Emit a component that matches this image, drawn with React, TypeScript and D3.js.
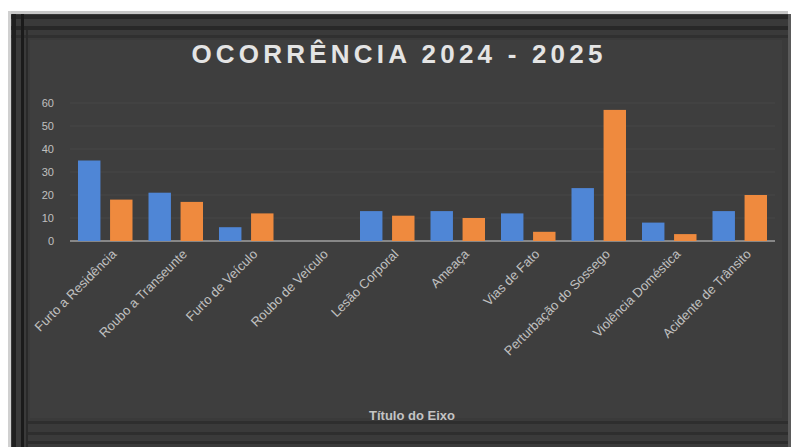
import React from "react";
import * as d3 from "d3";

const categories = [
  "Furto a Residência",
  "Roubo a Transeunte",
  "Furto de Veículo",
  "Roubo de Veículo",
  "Lesão Corporal",
  "Ameaça",
  "Vias de Fato",
  "Perturbação do Sossego",
  "Violência Doméstica",
  "Acidente de Trânsito",
];
const seriesNames = ["2024", "2025"];
const values2024 = [35, 21, 6, 0, 13, 13, 12, 23, 8, 13];
const values2025 = [18, 17, 12, 0, 11, 10, 4, 57, 3, 20];
const yTicks = [0, 10, 20, 30, 40, 50, 60];
const colors = ["#4F86D6", "#EF8A3E"];

export default function App() {
  const W = 791, H = 447;
  const left = 70, right = 775, top = 103, bottom = 241;
  const x0 = d3.scaleBand<string>().domain(categories).range([left, right]).padding(0);
  const x1 = d3.scaleBand<string>().domain(seriesNames).range([8, x0.bandwidth() - 8]).paddingInner(0.3);
  const y = d3.scaleLinear().domain([0, 60]).range([bottom, top]);
  const data = [values2024, values2025];
  const font = "Liberation Sans, Arial, sans-serif";
  return (
    <svg width={W} height={H} style={{ position: "absolute", left: 0, top: 0 }}>
      <rect x={0} y={0} width={W} height={H} fill="#ffffff" />
      <rect x={8} y={11} width={780} height={H - 11} fill="#3a3a3a" />
      <rect x={8} y={11} width={780} height={3} fill="#c8c8c8" />
      <rect x={8} y={11} width={3} height={H - 11} fill="#d0d0d0" />
      <rect x={788} y={14} width={3} height={H - 14} fill="#5a5a5a" />
      <rect x={11} y={15} width={777} height={4} fill="#282828" />
      <rect x={11} y={26} width={777} height={4} fill="#282828" />
      <rect x={11} y={35} width={777} height={3} fill="#303030" />
      <rect x={12} y={14} width={4} height={H - 14} fill="#1f1f1f" />
      <rect x={21} y={14} width={3} height={H - 14} fill="#1a1a1a" />
      <rect x={26} y={30} width={2} height={H - 30} fill="#2a2a2a" />
      <rect x={28} y={421} width={760} height={3} fill="#2e2e2e" />
      <rect x={28} y={432} width={760} height={3} fill="#2e2e2e" />
      <rect x={28} y={441} width={760} height={3} fill="#2c2c2c" />
      <rect x={30} y={40} width={752} height={378} fill="#3e3e3e" />
      <text x={399} y={63} textAnchor="middle" fill="#e4e4e4" fontFamily={font} fontWeight="bold" fontSize={26} letterSpacing={4.2}>
        OCORRÊNCIA 2024 - 2025
      </text>
      {yTicks.map((t) => (
        <g key={t}>
          <line x1={left} x2={right} y1={y(t)} y2={y(t)} stroke={t === 0 ? "#a0a0a0" : "#474747"} strokeWidth={t === 0 ? 1.5 : 1} />
          <text x={54} y={y(t) + 4} textAnchor="end" fill="#c0c0c0" fontFamily={font} fontSize={11}>
            {t}
          </text>
        </g>
      ))}
      {categories.map((c, i) => (
        <g key={c} transform={`translate(${x0(c)},0)`}>
          {seriesNames.map((s, j) => (
            <rect key={s} x={x1(s)} y={y(data[j][i])} width={x1.bandwidth()} height={bottom - y(data[j][i])} fill={colors[j]} />
          ))}
        </g>
      ))}
      {categories.map((c) => (
        <text
          key={c}
          transform={`translate(${(x0(c) as number) + x0.bandwidth() / 2 + 12},${bottom + 14}) rotate(-45)`}
          textAnchor="end"
          fill="#c0c0c0"
          fontFamily={font}
          fontSize={13}
        >
          {c}
        </text>
      ))}
      <text x={412} y={420} textAnchor="middle" fill="#c4c4c4" fontFamily={font} fontWeight="bold" fontSize={13}>
        Título do Eixo
      </text>
    </svg>
  );
}
